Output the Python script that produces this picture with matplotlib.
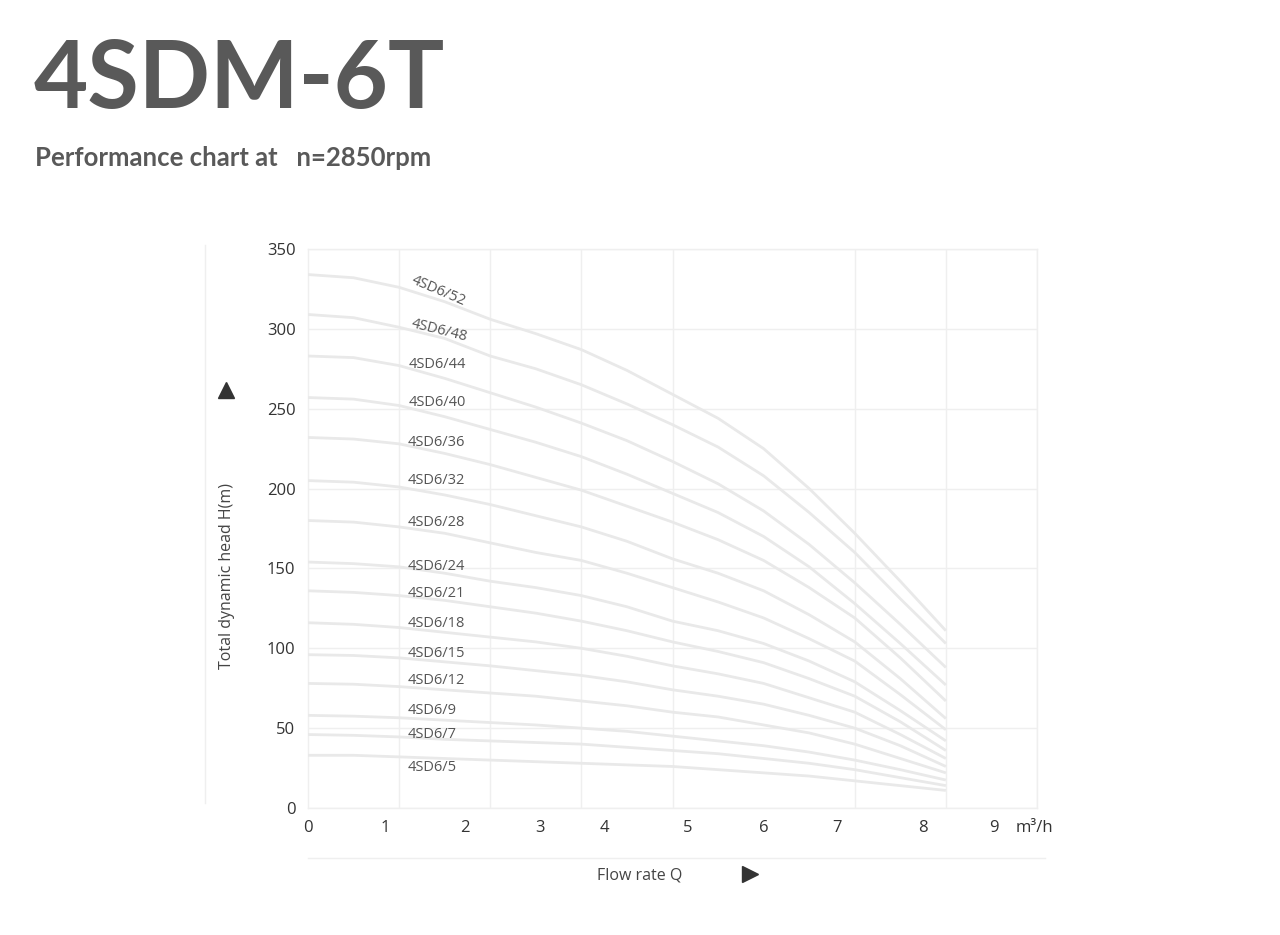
import matplotlib.pyplot as plt
from matplotlib.lines import Line2D

# flow positions of the readings, counted in grid steps (curves stop at the 8th gridline)
q = [0, 0.5, 1, 1.5, 2, 2.5, 3, 3.5, 4, 4.5, 5, 5.5, 6, 6.5, 7]

h_52 = [334, 332, 326, 317, 306, 297, 287, 274, 259, 244, 225, 200, 172, 142, 111]
h_48 = [309, 307, 301, 294, 283, 275, 265, 253, 240, 226, 208, 185, 160, 131, 103]
h_44 = [283, 282, 277, 269, 260, 251, 241, 230, 217, 203, 186, 165, 141, 115, 88]
h_40 = [257, 256, 252, 245, 237, 229, 220, 209, 197, 185, 170, 151, 128, 103, 77]
h_36 = [232, 231, 228, 222, 215, 207, 199, 189, 179, 168, 155, 138, 119, 94, 67]
h_32 = [205, 204, 201, 196, 190, 183, 176, 167, 156, 147, 136, 121, 104, 81, 56]
h_28 = [180, 179, 176, 172, 166, 160, 155, 147, 138, 129, 119, 106, 92, 71, 49]
h_24 = [154, 153, 151, 147, 142, 138, 133, 126, 117, 111, 103, 92, 79, 61, 42]
h_21 = [136, 135, 133, 130, 126, 122, 117, 111, 104, 98, 91, 81, 70, 54, 36]
h_18 = [116, 115, 113, 110, 107, 104, 100, 95, 89, 84, 78, 69, 60, 46, 31]
h_15 = [96, 95.5, 94, 91.5, 89, 86, 83, 79, 74, 70, 65, 58, 50, 39, 26]
h_12 = [78, 77.5, 76, 74, 72, 70, 67, 64, 60, 57, 52, 47, 40, 31, 22]
h_9 = [58, 57.5, 56.5, 55, 53.5, 52, 50, 48, 45, 42, 39, 35, 30, 24, 17.5]
h_7 = [46, 45.5, 44.5, 43, 42, 41, 40, 38, 36, 34, 31, 28, 24, 19, 14]
h_5 = [33, 33, 32, 31, 30, 29, 28, 27, 26, 24, 22, 20, 17, 14, 11]

models = ['4SD6/52', '4SD6/48', '4SD6/44', '4SD6/40', '4SD6/36', '4SD6/32', '4SD6/28',
          '4SD6/24', '4SD6/21', '4SD6/18', '4SD6/15', '4SD6/12', '4SD6/9', '4SD6/7', '4SD6/5']
heads = [h_52, h_48, h_44, h_40, h_36, h_32, h_28, h_24, h_21, h_18, h_15, h_12, h_9, h_7, h_5]

# flow tick labels sit off the gridlines in the original
xtick_labels = ['0', '1', '2', '3', '4', '5', '6', '7', '8', '9', 'm³/h']
xtick_pos = [0, 0.85, 1.72, 2.55, 3.25, 4.17, 5.0, 5.8, 6.75, 7.53, 7.97]

# where each curve name is written (grid steps, metres) and its tilt
label_pos = [(1.14, 331), (1.14, 303), (1.1, 277.5), (1.1, 254), (1.09, 229), (1.09, 205),
             (1.09, 179), (1.09, 151), (1.09, 134), (1.09, 115.6), (1.09, 97), (1.09, 80),
             (1.09, 61), (1.09, 46), (1.09, 25.6)]
label_rot = [-23, -14, 0, 0, 0, 0, 0, 0, 0, 0, 0, 0, 0, 0, 0]

plt.rcParams['font.family'] = ['Open Sans', 'DejaVu Sans']
W, H = 1280, 935
fig = plt.figure(figsize=(12.8, 9.35), dpi=100)
ax = fig.add_axes([308 / W, 1 - 808 / H, 729 / W, 559 / H])

for name, h in zip(models, heads):
    ax.plot(q, h, color='#e9e9e9', lw=2.0, solid_capstyle='butt', zorder=3)

for name, (x, y), r in zip(models, label_pos, label_rot):
    ax.text(x, y, name, fontsize=10.5, color='#555555', ha='left', va='center',
            rotation=r, rotation_mode='anchor', zorder=4)

ax.set_xlim(0, 8)
ax.set_ylim(0, 350)
ax.set_xticks(range(9), minor=True)
ax.set_yticks(range(0, 351, 50))
ax.set_xticks(xtick_pos, xtick_labels)
ax.grid(which='minor', axis='x', color='#efefef', lw=1, zorder=0)
ax.grid(which='major', axis='y', color='#efefef', lw=1, zorder=0)
ax.tick_params(which='both', length=0)
ax.tick_params(axis='y', pad=9, labelsize=12, labelcolor='#333333')
ax.tick_params(axis='x', pad=9, labelsize=12, labelcolor='#333333')
for s in ax.spines.values():
    s.set_color('#efefef')
    s.set_linewidth(1)

# headings
fig.text(34 / W, 1 - 108 / H, '4SDM-6T', fontsize=67.5, fontweight='bold',
         color='#595959', ha='left', va='baseline', family=['Lato', 'DejaVu Sans'])
fig.text(35 / W, 1 - 166 / H, 'Performance chart at   n=2850rpm', fontsize=18.5,
         fontweight='bold', color='#595959', ha='left', va='baseline',
         family=['Lato', 'DejaVu Sans'])

# axis titles with arrows
fig.text(227 / W, 1 - 576 / H, 'Total dynamic head H(m)', rotation=90, fontsize=11.5,
         color='#444444', ha='center', va='center')
fig.text(640 / W, 1 - 875 / H, 'Flow rate Q', fontsize=11.5, color='#444444',
         ha='center', va='center')
fig.add_artist(Line2D([226 / W], [1 - 390 / H], marker='^', markersize=12, color='#333333',
                      lw=0, transform=fig.transFigure))
fig.add_artist(Line2D([750 / W], [1 - 874 / H], marker='>', markersize=12, color='#333333',
                      lw=0, transform=fig.transFigure))

# faint frame lines beside the plot
fig.add_artist(Line2D([205 / W, 205 / W], [1 - 245 / H, 1 - 803 / H], color='#efefef',
                      lw=1, transform=fig.transFigure))
fig.add_artist(Line2D([308 / W, 1045 / W], [1 - 858 / H, 1 - 858 / H], color='#efefef',
                      lw=1, transform=fig.transFigure))

fig.savefig('out.png', dpi=100, facecolor='white')
